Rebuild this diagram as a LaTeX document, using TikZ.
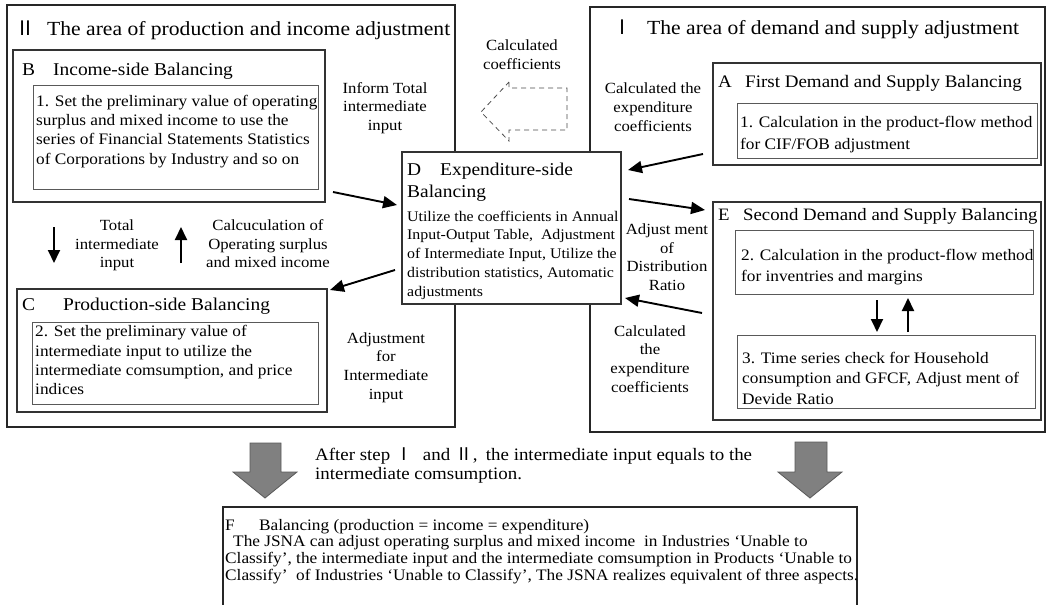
\documentclass[tikz,border=0pt]{standalone}
\usepackage{fontspec}
\setmainfont{Liberation Serif}[FakeStretch=1.08]
\newfontfamily\cjk{Noto Sans CJK JP}
\usetikzlibrary{arrows.meta,calc}
\newcommand\fsz[2]{\fontsize{#1}{#2}\selectfont}
\begin{document}
\begin{tikzpicture}[x=1pt,y=-1pt,
  outerbox/.style={draw=black!85, line width=1.6pt, anchor=north west, inner sep=0pt, outer sep=0pt},
  midbox/.style={draw=black!80, line width=1.1pt, anchor=north west, inner sep=0pt, outer sep=0pt, fill=white},
  innerbox/.style={draw=black!65, line width=0.9pt, anchor=north west, inner sep=0pt, outer sep=0pt},
  txt/.style={anchor=north west, inner sep=0pt, align=left, text=black},
  ttl/.style={anchor=base west, inner sep=0pt, text=black},
  lbl/.style={anchor=north, inner sep=0pt, align=center, text=black, font=\fsz{15.5}{18.7}},
  arr/.style={line width=1.9pt, black, -{Triangle[length=14pt,width=12pt]}},
  varr/.style={line width=1.9pt, black, -{Triangle[length=13pt,width=12pt]}},
  bigarrow/.style={fill=black!50, draw=black!65, line width=0.8pt},
  dasharrow/.style={draw=black!70, line width=0.8pt, dash pattern=on 5pt off 4pt}
]
\useasboundingbox (0,0) rectangle (1047,605);
\fill[white] (0,0) rectangle (1047,605);

% outer areas
\node[outerbox, minimum width=448pt, minimum height=422pt] (II) at (7,5) {};
\node[outerbox, minimum width=455pt, minimum height=425pt] (I) at (590,7) {};
\node[ttl, font=\fsz{20}{24}] (IIt) at (15,35.6) {\makebox[32pt][l]{\cjk Ⅱ}The area of production and income adjustment};
\node[ttl, font=\fsz{20}{24}] (It) at (612,34.8) {\makebox[35pt][l]{\cjk Ⅰ}The area of demand and supply adjustment};

% B
\node[midbox, minimum width=312pt, minimum height=152pt] (B) at (13,50) {};
\node[ttl, font=\fsz{18}{21.6}] (Bt) at (22,75.5) {\makebox[31pt][l]{B}Income-side Balancing};
\node[innerbox, minimum width=285pt, minimum height=104pt] (Bi) at (33,85) {};
\node[txt, font=\fsz{16}{19.3}] (Bx) at (36,92.5) {\strut 1. Set the preliminary value of operating\\surplus and mixed income to use the\\series of Financial Statements Statistics\\of Corporations by Industry and so on};

% C
\node[midbox, minimum width=310pt, minimum height=123pt] (C) at (17,289) {};
\node[ttl, font=\fsz{18}{21.6}] (Ct) at (22,310) {\makebox[41pt][l]{C}Production-side Balancing};
\node[innerbox, minimum width=286pt, minimum height=82pt] (Ci) at (32,322) {};
\node[txt, font=\fsz{16}{19.2}] (Cx) at (35,323.3) {\strut 2. Set the preliminary value of\\intermediate input to utilize the\\intermediate comsumption, and price\\indices};

% A
\node[midbox, minimum width=328pt, minimum height=102pt] (A) at (713,63) {};
\node[ttl, font=\fsz{17.6}{21.6}] (At) at (718,87.3) {\makebox[27pt][l]{A}First Demand and Supply Balancing};
\node[innerbox, minimum width=300pt, minimum height=55pt] (Ai) at (737,103) {};
\node[txt, font=\fsz{16}{21.7}] (Ax) at (740,112) {\strut 1. Calculation in the product-flow method\\for CIF/FOB adjustment};

% E
\node[midbox, minimum width=328pt, minimum height=218pt] (E) at (713,202) {};
\node[ttl, font=\fsz{17.4}{21.6}] (Et) at (718,220.7) {\makebox[25pt][l]{E}Second Demand and Supply Balancing};
\node[innerbox, minimum width=298pt, minimum height=64pt] (E1) at (735,230) {};
\node[txt, font=\fsz{16}{21.7}] (E1x) at (741,244.8) {\strut 2. Calculation in the product-flow method\\for inventries and margins};
\node[innerbox, minimum width=298pt, minimum height=73pt] (E2) at (737,335) {};
\node[txt, font=\fsz{16}{20.4}] (E2x) at (742,349) {\strut 3. Time series check for Household\\consumption and GFCF, Adjust ment of\\Devide Ratio};

% D
\node[midbox, minimum width=219pt, minimum height=152pt] (D) at (402,152) {};
\node[txt, font=\fsz{18}{21.6}] (Dt) at (407,160.6) {\strut\makebox[33pt][l]{D}Expenditure-side\\Balancing};
\node[txt, font=\fsz{14.7}{18.8}] (Dx) at (407,207.8) {\strut Utilize the coefficients in Annual\\Input-Output Table,\ \ Adjustment\\of Intermediate Input, Utilize the\\distribution statistics, Automatic\\adjustments};

% labels
\node[lbl] (l1) at (385,80) {\strut Inform Total\\intermediate\\input};
\node[lbl] (l2) at (522,37.6) {\strut Calculated\\coefficients};
\node[lbl] (l3) at (653,80.4) {\strut Calculated the\\expenditure\\coefficients};
\node[lbl] (l4) at (667,221.1) {\strut Adjust ment\\of\\Distribution\\Ratio};
\node[lbl] (l5) at (650,323) {\strut Calculated\\the\\expenditure\\coefficients};
\node[lbl] (l6) at (386,330) {\strut Adjustment\\for\\Intermediate\\input};
\node[lbl] (l7) at (117,217.2) {\strut Total\\intermediate\\input};
\node[lbl] (l8) at (268,217.2) {\strut Calcuculation of\\Operating surplus\\and mixed income};

% connectors
\draw[arr] ([shift={(8,-10)}]B.south east) -- ([shift={(-5,53)}]D.north west);
\draw[arr] ([shift={(-7,-34)}]D.south west) -- ([shift={(3,1)}]C.north east);
\draw[arr] ([shift={(-10,-11)}]A.south west) -- ([shift={(7,18)}]D.north east);
\draw[arr] ([shift={(8,47)}]D.north east) -- ([shift={(-8,8)}]E.north west);
\draw[arr] ([shift={(-11,111)}]E.north west) -- ([shift={(4,-6)}]D.south east);
\draw[varr] ([shift={(41,25)}]B.south west) -- ([shift={(37,-26)}]C.north west);
\draw[varr] ([shift={(164,-26)}]C.north west) -- ([shift={(168,25)}]B.south west);
\draw[varr] ([shift={(142,6)}]E1.south west) -- ([shift={(140,-3)}]E2.north west);
\draw[varr] ([shift={(171,-3)}]E2.north west) -- ([shift={(173,4)}]E1.south west);

% dashed block arrow (calculated coefficients)
\draw[dasharrow] (509,82) -- (509,88) -- (567,88) -- (567,130) -- (509,130) -- (509,141) -- (481,112) -- cycle;

% big grey arrows
\draw[bigarrow] (250,443) -- (281,443) -- (281,472) -- (297,472) -- (265,498) -- (233,472) -- (250,472) -- cycle;
\draw[bigarrow] (795,442) -- (827,442) -- (827,472) -- (842,472) -- (810,498) -- (778,472) -- (795,472) -- cycle;

\node[txt, font=\fsz{17.5}{19}] (after) at (315,447) {\strut After step\ \makebox[18pt]{\cjk Ⅰ}\hspace{10pt}and\ \makebox[18pt]{\cjk Ⅱ}\makebox[13pt][l]{,}the intermediate input equals to the\\intermediate comsumption.};

% F
\node[outerbox, line width=1.4pt, minimum width=634pt, minimum height=130pt] (F) at (223,507) {};
\node[txt, font=\fsz{16}{16.7}] (Fx) at (225,518.3) {\strut\makebox[34pt][l]{F}Balancing (production = income = expenditure)\\\hspace*{8pt}The JSNA can adjust operating surplus and mixed income\ \ in Industries ‘Unable to\\Classify’, the intermediate input and the intermediate comsumption in Products ‘Unable to\\Classify’\ \ of Industries ‘Unable to Classify’, The JSNA realizes equivalent of three aspects.};
\end{tikzpicture}
\end{document}
